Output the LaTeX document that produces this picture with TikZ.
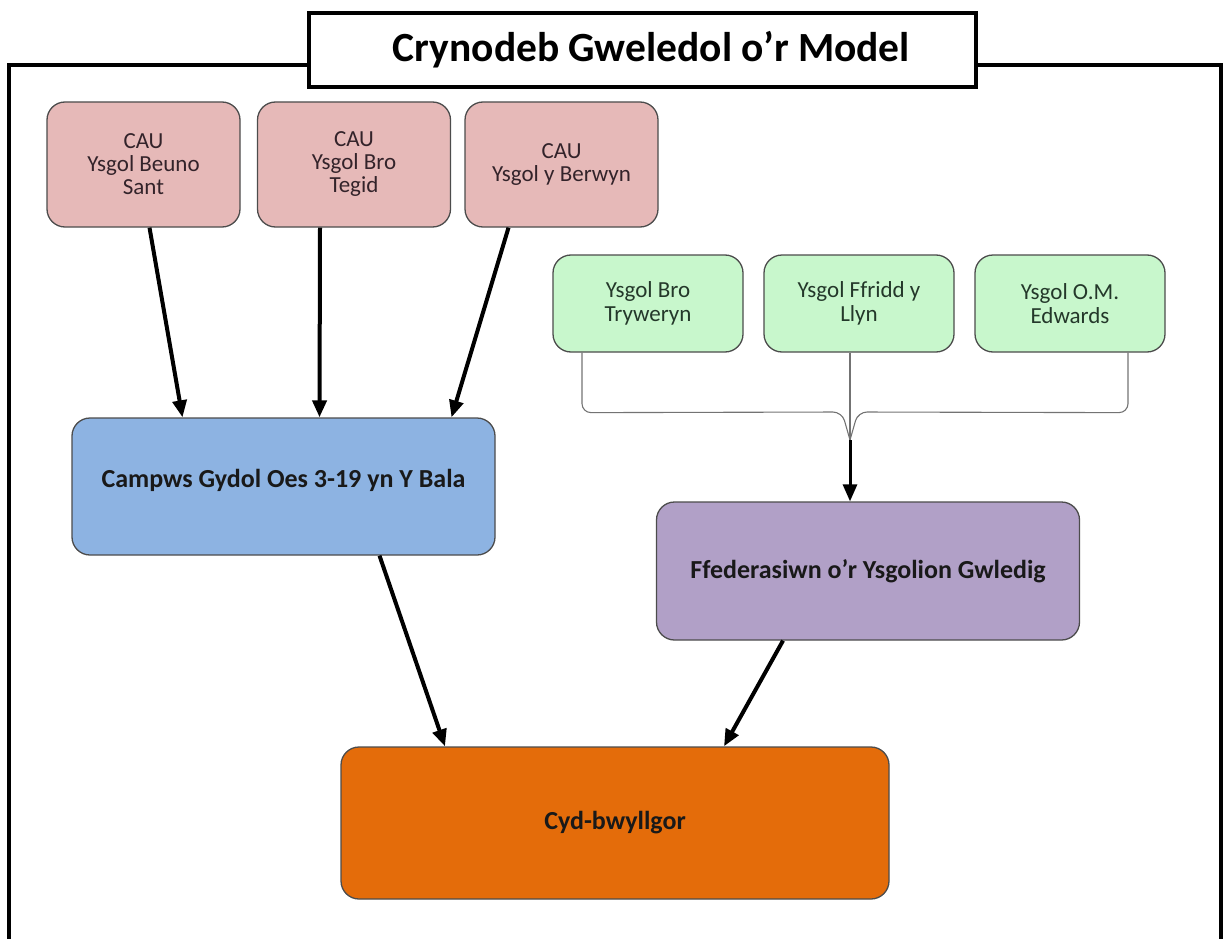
\documentclass[tikz,border=0pt]{standalone}
\usepackage{fontspec}
\setmainfont{Carlito}
\usetikzlibrary{arrows.meta,positioning,calc}
\definecolor{cauPink}{HTML}{E6B9B8}
\definecolor{cauText}{HTML}{33232A}
\definecolor{ysgGreen}{HTML}{C8F7CC}
\definecolor{ysgText}{HTML}{24382A}
\definecolor{campBlue}{HTML}{8DB3E2}
\definecolor{fedPurple}{HTML}{B1A0C7}
\definecolor{cydOrange}{HTML}{E46C0A}

\begin{document}
\begin{tikzpicture}[x=1pt,y=-1pt,
  box/.style={draw=black!70, line width=1.3pt, rounded corners=18pt, align=center, inner sep=0pt},
  cau/.style={box, fill=cauPink, text=cauText, minimum width=193pt, minimum height=125pt, font=\fontsize{23}{23}\selectfont},
  ysg/.style={box, fill=ysgGreen, text=ysgText, minimum width=190pt, minimum height=97pt, font=\fontsize{23}{24}\selectfont},
  big/.style={box, text=black!90, minimum width=423pt, minimum height=137pt, font=\fontsize{26}{30}\selectfont\bfseries},
  arr/.style={-{Triangle[length=17pt,width=14pt]}, line width=4pt},
  brace/.style={draw=black!55, line width=1.1pt, rounded corners=9pt}]
\useasboundingbox (0,0) rectangle (1226,939);

% outer frame and title
\draw[line width=4pt] (9,939) -- (9,65) -- (1221,65) -- (1221,939);
\node[draw, line width=4pt, fill=white, minimum width=667pt, minimum height=74pt,
  font=\fontsize{41.5}{46}\selectfont\bfseries] (title) at (642.5,50) {\hspace*{18pt}Crynodeb Gweledol o’r Model};

% schools
\node[cau] (beuno) at (143.5,164.5) {CAU\\Ysgol Beuno\\Sant};
\node[cau] (tegid) at (354,164.5) {CAU\\Ysgol Bro\\Tegid};
\node[cau] (berwyn) at (561.5,164.5) {CAU\\Ysgol y Berwyn};
\node[ysg] (tryweryn) at (648,303.5) {Ysgol Bro\\Tryweryn};
\node[ysg] (ffridd) at (859,303.5) {Ysgol Ffridd y\\Llyn};
\node[ysg] (omedwards) at (1070,303.5) {Ysgol O.M.\\Edwards};

% groups
\node[big, fill=campBlue] (campws) at (283.5,486.5) {Campws Gydol Oes 3-19 yn Y Bala\\[-14pt]};
\node[big, fill=fedPurple, minimum height=138pt] (ffed) at (868,571) {Ffederasiwn o'r Ysgolion Gwledig};
\node[big, fill=cydOrange, minimum width=548pt, minimum height=152pt] (cyd) at (615,823) {Cyd-bwyllgor};

% brace
\coordinate (join) at (850,440);
\draw[brace] ([xshift=-66pt]tryweryn.south) -- ++(0,60) -- (842,412) -- (join);
\draw[brace] ([xshift=58pt]omedwards.south) -- ++(0,60) -- (858,412) -- (join);
\draw[brace] ([xshift=-9pt]ffridd.south) -- (join);

% arrows
\draw[arr] ([xshift=6pt]beuno.south) -- ([xshift=-101pt]campws.north);
\draw[arr] ([xshift=-34pt]tegid.south) -- ([xshift=36pt]campws.north);
\draw[arr] ([xshift=-53pt]berwyn.south) -- ([xshift=168pt]campws.north);
\draw[arr, line width=3pt] (join) -- ([xshift=-18pt]ffed.north);
\draw[arr] ([xshift=96pt]campws.south) -- ([xshift=-170pt]cyd.north);
\draw[arr] ([xshift=-85pt]ffed.south) -- ([xshift=109pt]cyd.north);
\end{tikzpicture}
\end{document}
